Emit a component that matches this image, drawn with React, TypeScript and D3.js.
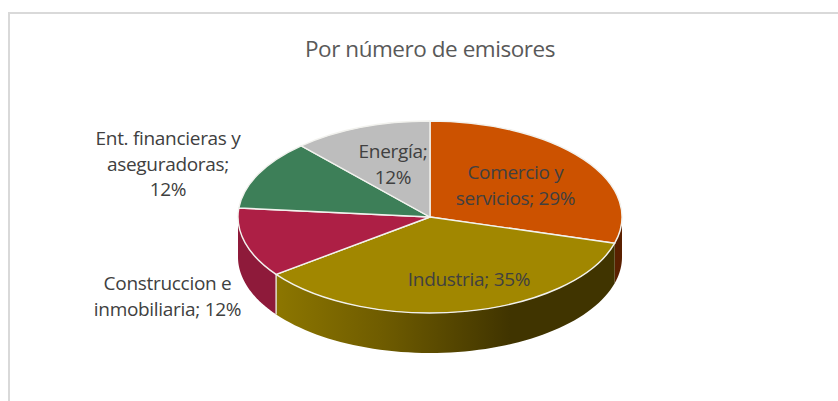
import React from "react";
import * as d3 from "d3";

// slice shares, the labels print them rounded
const categories = ["Comercio y servicios", "Industria", "Construccion e inmobiliaria", "Ent. financieras y aseguradoras", "Energía"];
const shares = [29.4, 35.4, 11.7, 11.8, 11.7];
const topColors = ["#cc5200", "#a18700", "#ad1f45", "#3d7f58", "#bdbdbd"];
const wallDark = ["#5a2000", "#403400", "#8e1a3a", "#2a5a3e", "#858585"];
const title = "Por número de emisores";

const width = 838;
const height = 401;
const cx = 430;
const cy = 217;
const rx = 192;
const ry = 96;
const depth = 40;

const labelLines = [
  ["Comercio y", "servicios; 29%"],
  ["Industria; 35%"],
  ["Construccion e", "inmobiliaria; 12%"],
  ["Ent. financieras y", "aseguradoras;", "12%"],
  ["Energía;", "12%"],
];
const labelPos = [
  [515.5, 179],
  [469, 286],
  [167.5, 290],
  [168, 145],
  [393, 158],
];

const pie = d3.pie<number>().sort(null).startAngle(0).endAngle(2 * Math.PI);
const arcs = pie(shares);
const arc = d3.arc<d3.PieArcDatum<number>>().innerRadius(0).outerRadius(rx);

const rimX = (a: number) => cx + rx * Math.sin(a);
const rimY = (a: number) => cy - ry * Math.cos(a);

// side wall of one slice, only the front half of the ellipse shows
function wallPath(a0: number, a1: number) {
  const from = Math.max(a0, Math.PI / 2);
  const to = Math.min(a1, (3 * Math.PI) / 2);
  if (to <= from) return null;
  const angle = d3.scaleLinear().domain([0, 60]).range([from, to]);
  const pts = d3.range(61).map((i) => angle(i));
  const area = d3
    .area<number>()
    .x(rimX)
    .y0(rimY)
    .y1((a) => rimY(a) + depth);
  return area(pts);
}

export default function App() {
  const seam = arcs[1].endAngle;
  return (
    <svg
      width={width}
      height={height}
      style={{ position: "absolute", left: 0, top: 0, background: "#fff" }}
      fontFamily="'Open Sans', sans-serif"
    >
      <defs>
        <linearGradient id="wall-industria" gradientUnits="userSpaceOnUse" x1={277} x2={510} y1={0} y2={0}>
          <stop offset="0" stopColor="#8c7600" />
          <stop offset="0.45" stopColor="#6f5c00" />
          <stop offset="1" stopColor={wallDark[1]} />
        </linearGradient>
      </defs>
      <path d={`M9 ${height}V13H${width}`} fill="none" stroke="#d9d9d9" strokeWidth={2} />
      <text x={430} y={57} textAnchor="middle" fontSize={22.5} letterSpacing={-0.45} fill="#595959">
        {title}
      </text>

      {arcs.map((d, i) => {
        const p = wallPath(d.startAngle, d.endAngle);
        if (!p) return null;
        return <path key={categories[i]} d={p} fill={i === 1 ? "url(#wall-industria)" : wallDark[i]} />;
      })}
      <line
        x1={rimX(seam)}
        x2={rimX(seam)}
        y1={rimY(seam)}
        y2={rimY(seam) + depth}
        stroke="#e8e4d8"
        strokeWidth={1.4}
      />

      <g transform={`translate(${cx},${cy}) scale(1,${ry / rx})`}>
        {arcs.map((d, i) => (
          <path
            key={categories[i]}
            d={arc(d) as string}
            fill={topColors[i]}
            stroke="#f2f2ee"
            strokeWidth={1.4}
            vectorEffect="non-scaling-stroke"
          />
        ))}
      </g>

      {labelLines.map((lines, i) => (
        <text
          key={categories[i]}
          x={labelPos[i][0]}
          y={labelPos[i][1]}
          textAnchor="middle"
          fontSize={19}
          letterSpacing={-0.3}
          fill="#404040"
        >
          {lines.map((l, j) => (
            <tspan key={l} x={labelPos[i][0]} dy={j === 0 ? 0 : 25.5}>
              {l}
            </tspan>
          ))}
        </text>
      ))}
    </svg>
  );
}
